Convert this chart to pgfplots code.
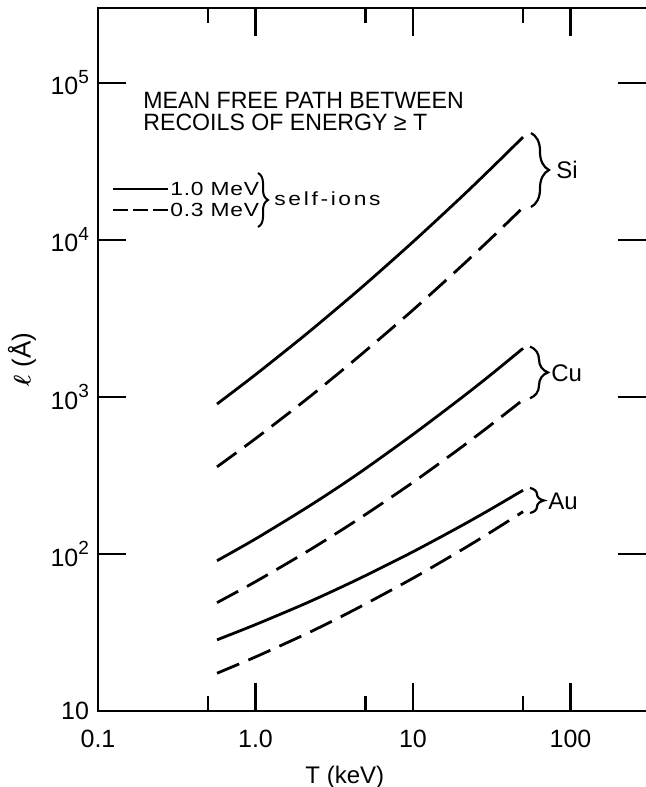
\documentclass[border=0pt]{standalone}
\usepackage{amsmath}
\usepackage{pgfplots}
\pgfplotsset{compat=1.18}
\usepackage{fontspec}
\setmainfont{Liberation Sans}
\usetikzlibrary{decorations.pathreplacing}
\newcommand{\sups}[1]{\raisebox{0.45em}{\fontsize{9.5}{10}\selectfont #1}}
\begin{document}
\begin{tikzpicture}
\useasboundingbox (-49pt,-38pt) rectangle (274pt,355.5pt);
\begin{axis}[
  at={(0,0)}, anchor=south west,
  scale only axis, width=273.8pt, height=351.5pt,
  xmode=log, ymode=log,
  xmin=0.1, xmax=300, ymin=10, ymax=3e5,
  axis line style={draw=none},
  xtick={0.1,1,10,100}, xticklabels={0.1,1.0,10,100},
  minor xtick={0.5,5,50},
  ytick={10,100,1000,10000,100000},
  yticklabels={10,10\sups{2},10\sups{3},10\sups{4},10\sups{5}},
  yminorticks=false,
  tick align=inside,
  major tick length=14pt, minor tick length=7.5pt,
  every tick/.style={black, line width=1.1pt},
  /pgf/number format/assume math mode=true,
  tick label style={font=\fontsize{12.5}{14}\selectfont},
  xticklabel style={yshift=-6pt},
  yticklabel style={xshift=-1pt},
  xlabel={T (keV)},
  xlabel style={at={(axis description cs:0.4507,-0.0939)}, anchor=center, font=\fontsize{12}{14}\selectfont},
  ylabel={$\boldsymbol{\ell}$ (Å)},
  ylabel style={at={(axis description cs:-0.1388,0.5)}, anchor=center, font=\fontsize{13}{14}\selectfont},
  clip=false,
]
% Si
\addplot[line width=1.4pt, smooth] coordinates {(0.57,902) (1,1387) (2,2415) (3.162,3540) (5,5240) (10,9720) (20,18500) (31.62,28770) (50,45200)};
\addplot[line width=1.4pt, smooth, dash pattern=on 12pt off 5pt] coordinates {(0.57,359) (1,543) (2,927) (3.162,1343) (5,1968) (10,3581) (20,6714) (31.62,10330) (50,16100)};
% Cu
\addplot[line width=1.4pt, smooth] coordinates {(0.57,90.6) (1,124.7) (2,190.5) (3.162,256) (5,350) (10,577) (20,975) (31.62,1400) (50,2040)};
\addplot[line width=1.4pt, smooth, dash pattern=on 12pt off 5pt] coordinates {(0.57,49) (1,66.6) (2,99.9) (3.162,132.7) (5,178.5) (10,286) (20,473) (31.62,670) (50,959)};
% Au
\addplot[line width=1.4pt, smooth] coordinates {(0.57,28.4) (1,35.5) (2,47.6) (3.162,58.6) (5,72.9) (10,103.3) (20,150) (31.62,194.5) (50,254.7)};
\addplot[line width=1.4pt, smooth, dash pattern=on 12pt off 5pt] coordinates {(0.57,17.4) (1,22.1) (2,30.3) (3.162,37.9) (5,48.1) (10,70.1) (20,105) (31.62,139) (50,186)};
\end{axis}
% frame (left, bottom, top)
\draw[line width=1.2pt] (274pt,0) -- (0,0) -- (0,351.5pt) -- (274pt,351.5pt);
% braces
\draw[line width=1.1pt, decorate, decoration={brace, amplitude=9pt}] (216.5pt,289pt) -- (216.5pt,252pt);
\node[anchor=west, inner sep=0, font=\fontsize{12}{14}\selectfont] at (229pt,270.5pt) {Si};
\draw[line width=1.1pt, decorate, decoration={brace, amplitude=9pt}] (216pt,182.2pt) -- (216pt,156.4pt);
\node[anchor=west, inner sep=0, font=\fontsize{12}{14}\selectfont] at (226.5pt,169pt) {Cu};
\draw[line width=1.1pt, decorate, decoration={brace, amplitude=7pt}] (216pt,111.5pt) -- (216pt,99pt);
\node[anchor=west, inner sep=0, font=\fontsize{12}{14}\selectfont] at (225pt,105pt) {Au};
% title
\node[anchor=base west, inner sep=0, font=\fontsize{11.8}{12}\selectfont\addfontfeatures{FakeStretch=0.98}] at (22.5pt,301.4pt) {MEAN FREE PATH BETWEEN};
\node[anchor=base west, inner sep=0, font=\fontsize{11.8}{12}\selectfont\addfontfeatures{FakeStretch=0.98}] at (22.5pt,290.3pt) {RECOILS OF ENERGY ≥ T};
% legend
\draw[line width=1.4pt] (7.5pt,261pt) -- (35pt,261pt);
\draw[line width=1.4pt, dash pattern=on 7.5pt off 2.5pt] (7.5pt,250.5pt) -- (35pt,250.5pt);
\node[anchor=west, inner sep=0, font=\fontsize{9.5}{11}\selectfont\addfontfeatures{FakeStretch=1.2,LetterSpace=4}] at (36pt,261pt) {1.0 MeV};
\node[anchor=west, inner sep=0, font=\fontsize{9.5}{11}\selectfont\addfontfeatures{FakeStretch=1.2,LetterSpace=4}] at (36pt,250.5pt) {0.3 MeV};
\draw[line width=1pt, decorate, decoration={brace, amplitude=5pt}] (80pt,269pt) -- (80pt,242pt);
\node[anchor=west, inner sep=0, font=\fontsize{9.5}{11}\selectfont\addfontfeatures{FakeStretch=1.2,LetterSpace=14}] at (88pt,256pt) {self-ions};
\end{tikzpicture}
\end{document}
